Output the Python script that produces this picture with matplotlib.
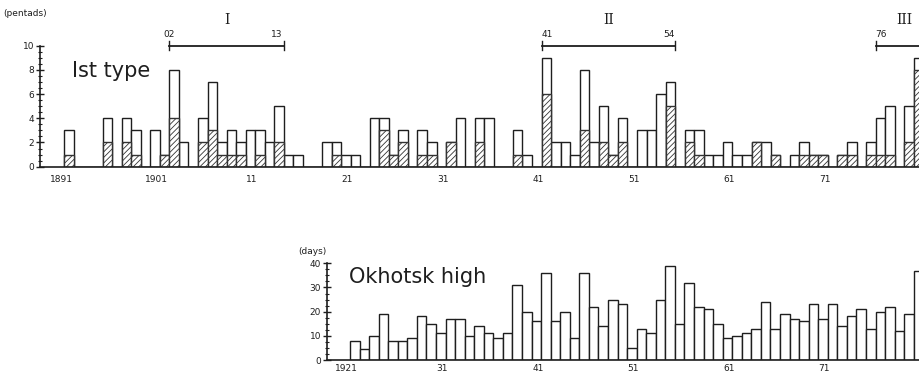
import numpy as np
import matplotlib
matplotlib.use("Agg")
import matplotlib.pyplot as plt
from matplotlib.ticker import MultipleLocator

plt.rcParams['hatch.linewidth'] = 0.6

# ---- data: 1st type (pentads), 1891-1980
years_top = np.arange(1891, 1981)
total_top = [3, 0, 0, 0, 4, 0, 4, 3, 0, 3,
             1, 8, 2, 0, 4, 7, 2, 3, 2, 3,
             3, 2, 5, 1, 1, 0, 0, 2, 2, 1,
             1, 0, 4, 4, 1, 3, 0, 3, 2, 0,
             2, 4, 0, 4, 4, 0, 0, 3, 1, 0,
             9, 2, 2, 1, 8, 2, 5, 1, 4, 0,
             3, 3, 6, 7, 0, 3, 3, 1, 1, 2,
             1, 1, 2, 2, 1, 0, 1, 2, 1, 1,
             0, 1, 2, 0, 2, 4, 5, 0, 5, 9]
hatched_top = [1, 0, 0, 0, 2, 0, 2, 1, 0, 0,
               1, 4, 0, 0, 2, 3, 1, 1, 1, 0,
               1, 0, 2, 0, 0, 0, 0, 0, 1, 0,
               0, 0, 0, 3, 1, 2, 0, 1, 1, 0,
               2, 0, 0, 2, 0, 0, 0, 1, 0, 0,
               6, 0, 0, 0, 3, 0, 2, 1, 2, 0,
               0, 0, 0, 5, 0, 2, 1, 0, 0, 0,
               0, 0, 2, 0, 1, 0, 0, 1, 1, 1,
               0, 1, 1, 0, 1, 1, 1, 0, 2, 8]
top_tick_years = [1891, 1901, 1911, 1921, 1931, 1941, 1951, 1961, 1971]
top_tick_labels = ['1891', '1901', '11', '21', '31', '41', '51', '61', '71']

# ---- data: Okhotsk high (days), 1921-1980
years_bot = np.arange(1921, 1981)
days_bot = [8, 4.5, 10, 19, 8, 8, 9, 18, 15, 11,
            17, 17, 10, 14, 11, 9, 11, 31, 20, 16,
            36, 16, 20, 9, 36, 22, 14, 25, 23, 5,
            13, 11, 25, 39, 15, 32, 22, 21, 15, 9,
            10, 11, 13, 24, 13, 19, 17, 16, 23, 17,
            23, 14, 18, 21, 13, 20, 22, 12, 19, 37]
bot_tick_years = [1921, 1931, 1941, 1951, 1961, 1971]
bot_tick_labels = ['1921', '31', '41', '51', '61', '71']

# periods marked above the top panel
periods = [('I', '02', '13', 1902, 1914), ('II', '41', '54', 1941, 1955), ('III', '76', '', 1976, 1990)]

ink = '#1e1e1e'
W, H = 920.0, 375.0

fig = plt.figure(figsize=(9.2, 3.75), dpi=100)
ax1 = fig.add_axes([40 / W, 1 - 166.7 / H, 1 - 40 / W, (166.7 - 45.7) / H])
ax2 = fig.add_axes([326.7 / W, 1 - 360 / H, 1 - 326.7 / W, (360 - 263.3) / H])


def style_axis(ax, x0, x1, ymax, major, minor, ticks, labels, xpad):
    ax.set_xlim(x0, x1)
    ax.set_ylim(0, ymax)
    for s in ['top', 'right']:
        ax.spines[s].set_visible(False)
    for s in ['left', 'bottom']:
        ax.spines[s].set_linewidth(1.2)
        ax.spines[s].set_color(ink)
    ax.set_yticks(np.arange(0, ymax + 0.1, major))
    ax.yaxis.set_minor_locator(MultipleLocator(minor))
    ax.tick_params(axis='y', which='major', direction='inout', length=6, width=1, labelsize=6.5,
                   pad=1, colors=ink)
    ax.tick_params(axis='y', which='minor', direction='inout', length=3, width=0.8, colors=ink)
    ax.set_xticks([t - 0.35 for t in ticks])
    ax.set_xticklabels(labels)
    ax.tick_params(axis='x', length=0, labelsize=6.5, pad=xpad, colors=ink)
    ax.set_facecolor('none')


# top panel
ax1.bar(years_top, total_top, width=1, align='edge', facecolor='white', edgecolor=ink, linewidth=1.0)
ax1.bar(years_top, hatched_top, width=1, align='edge', facecolor='white', edgecolor='#333333',
        hatch='//////', linewidth=1.0)
style_axis(ax1, 1888.45, 1980.65, 10, 2, 0.5, top_tick_years, top_tick_labels, 6)
ax1.text(1891.8, 7.9, 'Ist type', fontsize=15, color=ink, va='center', ha='left')
fig.text(25 / W, 1 - 14 / H, '(pentads)', fontsize=6.5, color=ink, ha='center', va='center')

for roman, lab0, lab1, a, b in periods:
    ax1.plot([a, b], [10.0, 10.0], color=ink, lw=1.3, clip_on=False)
    ax1.plot([a, a], [9.65, 10.35], color=ink, lw=1.0, clip_on=False)
    ax1.plot([b, b], [9.65, 10.35], color=ink, lw=1.0, clip_on=False)
    ax1.text(a, 10.95, lab0, fontsize=6.5, color=ink, ha='left' if roman != 'I' else 'center',
             va='center', clip_on=False)
    if lab1:
        ax1.text(b - 0.1, 10.95, lab1, fontsize=6.5, color=ink, ha='right', va='center', clip_on=False)
    mid = (a + b) / 2 if roman != 'III' else 1979.0
    ax1.text(mid, 12.1, roman, fontsize=10, family='DejaVu Serif', color=ink, ha='center',
             va='center', clip_on=False)

# bottom panel
ax2.bar(years_bot, days_bot, width=1, align='edge', facecolor='white', edgecolor=ink, linewidth=1.0)
style_axis(ax2, 1918.56, 1980.65, 40, 10, 2.5, bot_tick_years, bot_tick_labels, 3)
ax2.text(1920.9, 34.5, 'Okhotsk high', fontsize=15, color=ink, va='center', ha='left')
fig.text(312 / W, 1 - 251.7 / H, '(days)', fontsize=6.5, color=ink, ha='center', va='center')

fig.savefig('out.png', dpi=100, facecolor='white')
